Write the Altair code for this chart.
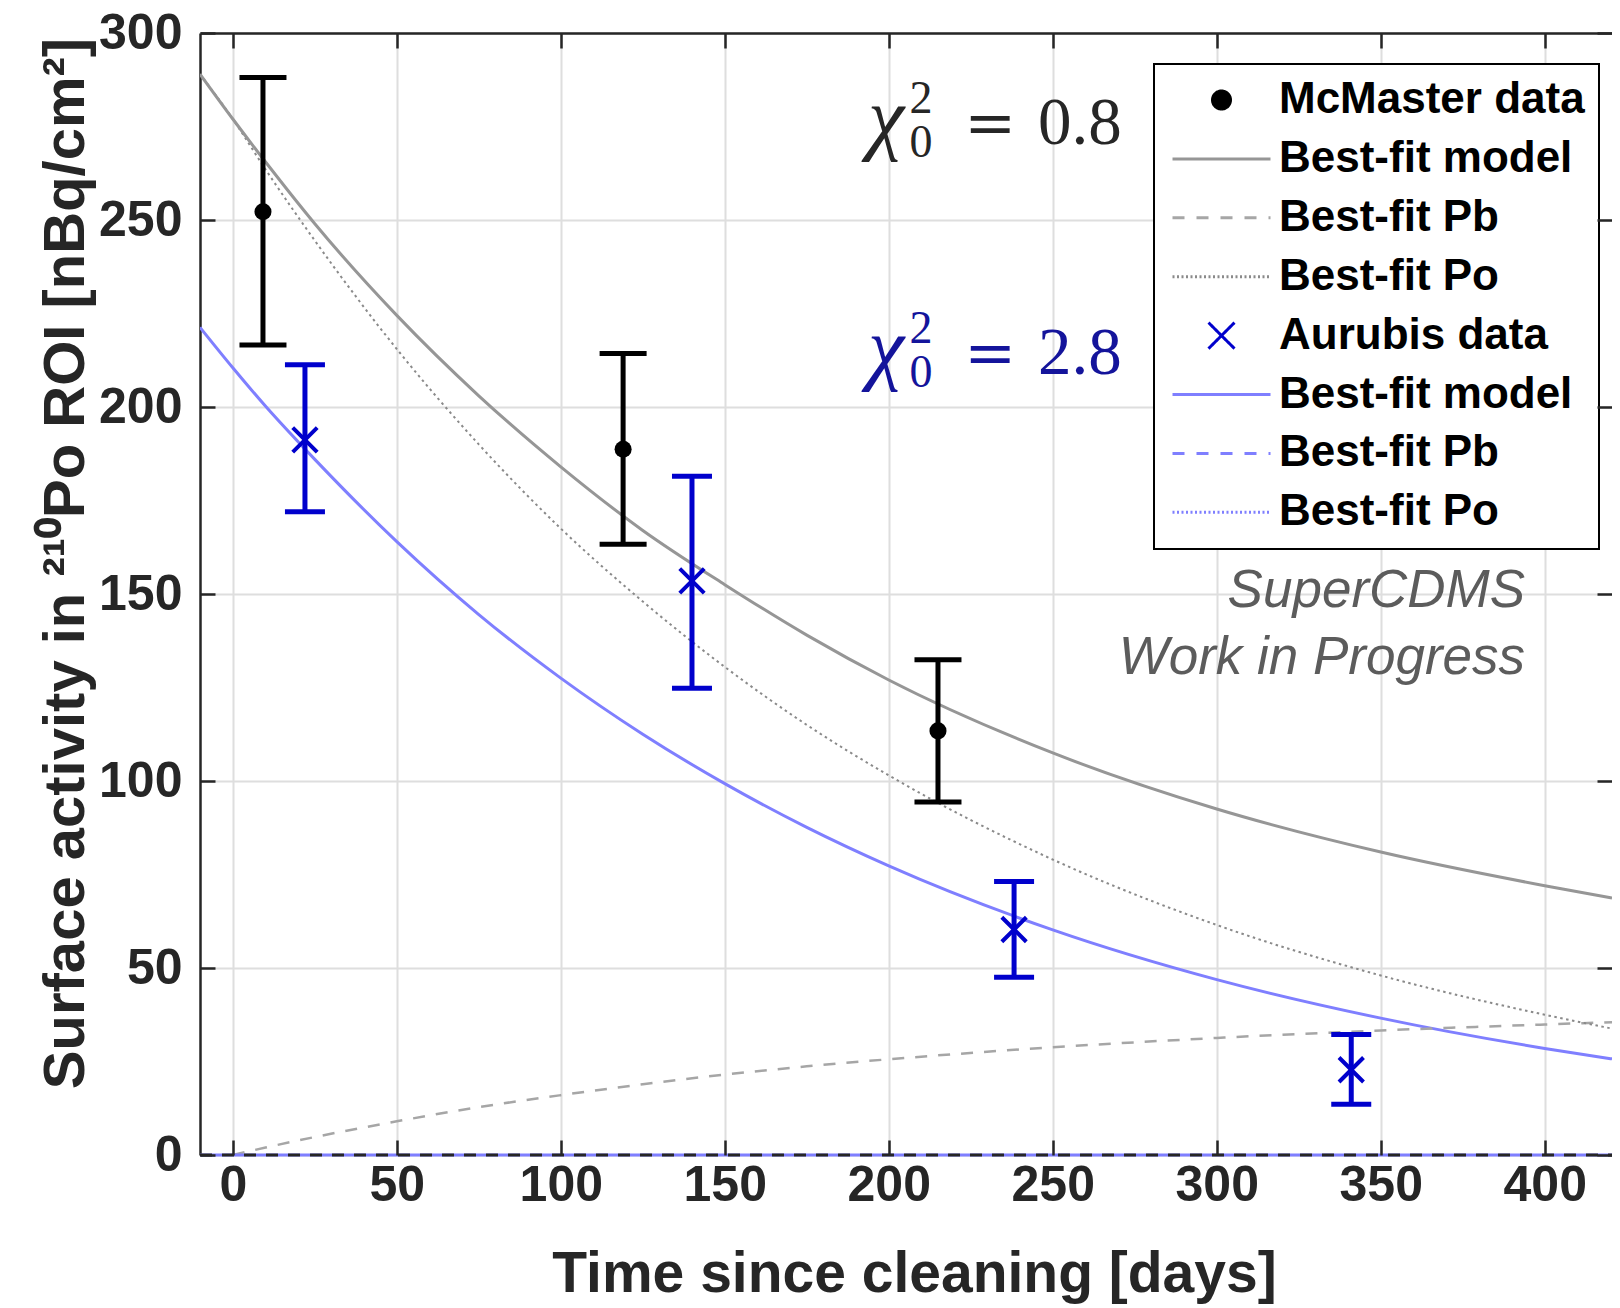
import altair as alt
import pandas as pd

# ---------------- data ----------------
mcm_day = [9.2, 119.0, 215.0]
mcm_val = [252.2, 188.7, 113.4]
mcm_lo = [216.6, 163.3, 94.4]
mcm_hi = [288.1, 214.3, 132.4]

aur_day = [22.0, 140.0, 238.2, 341.0]
aur_val = [191.2, 153.5, 60.3, 22.8]
aur_lo = [172.0, 124.8, 47.5, 13.6]
aur_hi = [211.3, 181.5, 73.1, 32.2]

curve_day = [-10, 0, 10, 25, 50, 75, 100, 125, 150, 175, 200, 250, 300, 350, 400, 420.5]
mcm_model = [289.0, 277.0, 265.5, 249.0, 224.5, 203.0, 184.0, 167.0, 152.5, 139.0, 127.0, 107.5, 92.5, 81.0, 72.0, 68.7]
mcm_po = [289.0, 277.0, 263.5, 244.5, 215.5, 190.0, 167.5, 148.0, 130.5, 115.0, 101.5, 79.0, 61.5, 48.0, 37.5, 33.8]
aur_model = [221.3, 210.5, 200.2, 186.0, 164.0, 144.5, 127.5, 112.5, 99.3, 87.6, 77.3, 60.2, 46.9, 36.6, 28.5, 25.7]

pb_day = [0, 10, 25, 50, 75, 100, 125, 150, 175, 200, 250, 300, 350, 400, 420.5]
mcm_pb = [0.0, 2.0, 4.8, 9.0, 12.8, 16.0, 18.9, 21.5, 23.7, 25.6, 28.8, 31.3, 33.3, 34.9, 35.5]

zero_day = [-10, 420.5]
zero_val = [0, 0]

x_ticks = [0, 50, 100, 150, 200, 250, 300, 350, 400]
y_ticks = [0, 50, 100, 150, 200, 250, 300]
x_domain = [-10, 420.5]
y_domain = [0, 300]

legend_labels = ["McMaster data", "Best-fit model", "Best-fit Pb", "Best-fit Po",
                 "Aurubis data", "Best-fit model ", "Best-fit Pb ", "Best-fit Po "]

chi_values = ["0.8", "2.8"]
watermark = ["SuperCDMS", "Work in Progress"]

# ---------------- styling ----------------
W, H = 1412, 1122
FONT = "Liberation Sans"
SERIF = "Liberation Serif"
AXC = "#262626"
GRAY_MODEL = "#969696"
GRAY_PB = "#a6a6a6"
GRAY_PO = "#8a8a8a"
BLUE_LINE = "#7f7fff"
BLUE_DATA = "#0000cc"
BLUE_TEXT = "#14149b"

DOT = "M0.9,0A0.9,0.9,0,1,1,-0.9,0A0.9,0.9,0,1,1,0.9,0Z"
LINE = "M-4.9,0L4.9,0"
XMARK = "M-1.3,-1.3L1.3,1.3M-1.3,1.3L1.3,-1.3"
XPOINT = "M-1,-1L1,1M-1,1L1,-1"

legend_colors = ["#000000", GRAY_MODEL, GRAY_PB, GRAY_PO, BLUE_DATA, BLUE_LINE, BLUE_LINE, BLUE_LINE]
legend_shapes = [DOT, LINE, LINE, LINE, XMARK, LINE, LINE, LINE]
legend_dash = [[1, 0], [1, 0], [12, 12], [2, 2.5], [1, 0], [1, 0], [12, 12], [2, 2.5]]

xscale = alt.Scale(domain=x_domain, nice=False, zero=False)
yscale = alt.Scale(domain=y_domain, nice=False, zero=False)


def X(field, axis=None):
    return alt.X(field, type="quantitative", scale=xscale, axis=axis)


def Y(field, axis=None):
    return alt.Y(field, type="quantitative", scale=yscale, axis=axis)


ax_x_main = alt.Axis(orient="bottom", values=x_ticks, grid=True, gridColor="#dedede", gridWidth=2,
                     ticks=False, tickSize=0, domain=False,
                     labelFont=FONT, labelFontSize=50, labelFontWeight="bold", labelColor=AXC,
                     labelPadding=5, labelFlush=False, labelOverlap=False,
                     title="Time since cleaning [days]", titleFont=FONT, titleFontSize=57,
                     titleFontWeight="bold", titleColor=AXC, titleX=714, titleY=136,
                     titleBaseline="alphabetic", titleAlign="center", zindex=0)
ax_y_main = alt.Axis(orient="left", values=y_ticks, grid=True, gridColor="#dedede", gridWidth=2,
                     ticks=False, tickSize=0, domain=True, domainColor=AXC, domainWidth=2.5,
                     labelFont=FONT, labelFontSize=50, labelFontWeight="bold", labelColor=AXC,
                     labelPadding=18, labelFlush=False, labelOverlap=False,
                     title="Surface activity in \u00b2\u00b9\u2070Po ROI [nBq/cm\u00b2]",
                     titleFont=FONT, titleFontSize=58, titleFontWeight="bold", titleColor=AXC,
                     titleX=-117, titleY=530, titleAngle=270, titleBaseline="alphabetic",
                     titleAlign="center", zindex=0)
ax_top = alt.Axis(orient="bottom", offset=-H, values=x_ticks, labels=False, grid=False,
                  ticks=True, tickSize=15, tickWidth=2.5, tickColor=AXC,
                  domain=True, domainColor=AXC, domainWidth=2.5, title=None, zindex=1)
ax_bottom_ticks = alt.Axis(orient="top", offset=-H, values=x_ticks, labels=False, grid=False,
                           ticks=True, tickSize=15, tickWidth=2.5, tickColor=AXC,
                           domain=False, title=None, zindex=1)
ax_left_ticks = alt.Axis(orient="right", offset=-W, values=y_ticks, labels=False, grid=False,
                         ticks=True, tickSize=15, tickWidth=2.5, tickColor=AXC,
                         domain=False, title=None, zindex=1)
ax_right_ticks = alt.Axis(orient="left", offset=-W, values=y_ticks, labels=False, grid=False,
                          ticks=True, tickSize=15, tickWidth=2.5, tickColor=AXC,
                          domain=False, title=None, zindex=1)

# ---------------- tables ----------------
curve_df = pd.DataFrame({"day": curve_day, "model": mcm_model, "po": mcm_po, "aur": aur_model})
pb_df = pd.DataFrame({"day": pb_day, "pb": mcm_pb})
zero_df = pd.DataFrame({"day": zero_day, "val": zero_val})
mcm_df = pd.DataFrame({"day": mcm_day, "val": mcm_val, "lo": mcm_lo, "hi": mcm_hi})
aur_df = pd.DataFrame({"day": aur_day, "val": aur_val, "lo": aur_lo, "hi": aur_hi})

# ---------------- curves ----------------
aur_line = alt.Chart(curve_df).mark_line(color=BLUE_LINE, strokeWidth=3, clip=True,
                                         interpolate="monotone").encode(
    x=X("day", ax_x_main), y=Y("aur", ax_y_main))
pb_line = alt.Chart(pb_df).mark_line(color=GRAY_PB, strokeWidth=2.5, strokeDash=[12, 11], clip=True,
                                     interpolate="monotone").encode(
    x=X("day", ax_top), y=Y("pb", ax_left_ticks))
po_line = alt.Chart(curve_df).mark_line(color=GRAY_PO, strokeWidth=2, strokeDash=[2.5, 3.5], clip=True,
                                        interpolate="monotone").encode(
    x=X("day", ax_bottom_ticks), y=Y("po", ax_right_ticks))
model_line = alt.Chart(curve_df).mark_line(color=GRAY_MODEL, strokeWidth=3, clip=True,
                                           interpolate="monotone").encode(
    x=X("day"), y=Y("model"))
zero_blue = alt.Chart(zero_df).mark_line(color=BLUE_LINE, strokeWidth=3, clip=False).encode(
    x=X("day"), y=Y("val"))
zero_black = alt.Chart(zero_df).mark_line(color=AXC, strokeWidth=3, strokeDash=[12, 10], clip=False).encode(
    x=X("day"), y=Y("val"))

# ---------------- data points with error bars ----------------
mcm_bar = alt.Chart(mcm_df).mark_rule(color="black", strokeWidth=5).encode(
    x=X("day"), y=Y("lo"), y2=alt.Y2("hi"))
mcm_cap_lo = alt.Chart(mcm_df).mark_tick(orient="horizontal", size=47, thickness=5, color="black",
                                         opacity=1).encode(x=X("day"), y=Y("lo"))
mcm_cap_hi = alt.Chart(mcm_df).mark_tick(orient="horizontal", size=47, thickness=5, color="black",
                                         opacity=1).encode(x=X("day"), y=Y("hi"))
mcm_pt = alt.Chart(mcm_df).mark_circle(size=290, color="black", opacity=1).encode(
    x=X("day"), y=Y("val"))

aur_bar = alt.Chart(aur_df).mark_rule(color=BLUE_DATA, strokeWidth=5).encode(
    x=X("day"), y=Y("lo"), y2=alt.Y2("hi"))
aur_cap_lo = alt.Chart(aur_df).mark_tick(orient="horizontal", size=40, thickness=5, color=BLUE_DATA,
                                         opacity=1).encode(x=X("day"), y=Y("lo"))
aur_cap_hi = alt.Chart(aur_df).mark_tick(orient="horizontal", size=40, thickness=5, color=BLUE_DATA,
                                         opacity=1).encode(x=X("day"), y=Y("hi"))
aur_pt = alt.Chart(aur_df).mark_point(shape=XPOINT, size=600, filled=False, strokeWidth=4,
                                      color=BLUE_DATA, opacity=1).encode(x=X("day"), y=Y("val"))

# ---------------- annotations ----------------
chi_sym = pd.DataFrame({"x": [193.7, 193.7], "y": [270.3, 208.8], "t": ["\u03c7", "\u03c7"],
                        "c": [AXC, BLUE_TEXT]})
chi_sup = pd.DataFrame({"x": [206.3, 206.3], "y": [278.6, 217.1], "t": ["2", "2"], "c": [AXC, BLUE_TEXT]})
chi_sub = pd.DataFrame({"x": [206.3, 206.3], "y": [266.8, 205.3], "t": ["0", "0"], "c": [AXC, BLUE_TEXT]})
chi_eq = pd.DataFrame({"x": [230.9, 230.9], "y": [270.3, 208.8], "t": ["=", "="], "c": [AXC, BLUE_TEXT]})
chi_val = pd.DataFrame({"x": [245.5, 245.5], "y": [270.3, 208.8], "t": chi_values, "c": [AXC, BLUE_TEXT]})
wm_df = pd.DataFrame({"x": [394.0, 394.0], "y": [146.5, 128.6], "t": watermark})


def text_layer(df, **kw):
    enc = dict(x=X("x"), y=Y("y"), text=alt.Text("t:N"))
    if "c" in df.columns:
        enc["color"] = alt.Color("c:N", scale=None)
    return alt.Chart(df).mark_text(baseline="alphabetic", **kw).encode(**enc)


t1 = text_layer(chi_sym, font=SERIF, fontSize=82, fontStyle="italic", align="left")
t2 = text_layer(chi_sup, font=SERIF, fontSize=46, align="left")
t3 = text_layer(chi_sub, font=SERIF, fontSize=46, align="left")
t4 = text_layer(chi_eq, font="DejaVu Serif", fontSize=62, align="center")
t5 = text_layer(chi_val, font=SERIF, fontSize=67, align="left")
t6 = text_layer(wm_df, font=FONT, fontSize=53, fontStyle="italic", align="right", color="#5c5c5c")

# ---------------- legend (built from a legend-only layer) ----------------
legend_df = pd.DataFrame({"label": legend_labels})
leg = alt.Legend(title=None, orient="none", legendX=954, legendY=31)
legend_layer = alt.Chart(legend_df).transform_filter("false").mark_point(
    filled=True, opacity=1, strokeWidth=3, size=400).encode(
    fill=alt.Fill("label:N", scale=alt.Scale(domain=legend_labels, range=legend_colors), legend=leg),
    stroke=alt.Stroke("label:N", scale=alt.Scale(domain=legend_labels, range=legend_colors), legend=leg),
    shape=alt.Shape("label:N", scale=alt.Scale(domain=legend_labels, range=legend_shapes), legend=leg),
    strokeDash=alt.StrokeDash("label:N", scale=alt.Scale(domain=legend_labels, range=legend_dash),
                              legend=leg),
)

chart = alt.layer(
    aur_line, pb_line, po_line, model_line, zero_blue, zero_black,
    mcm_bar, mcm_cap_lo, mcm_cap_hi, mcm_pt,
    aur_bar, aur_cap_lo, aur_cap_hi, aur_pt,
    t1, t2, t3, t4, t5, t6, legend_layer,
).resolve_axis(x="independent", y="independent").properties(
    width=W, height=H,
    padding={"left": 192, "top": 25, "right": 0, "bottom": 150},
    autosize=alt.AutoSizeParams(type="none"),
    background="white",
).configure_view(stroke="transparent").configure_legend(
    fillColor="white", strokeColor="black", strokeWidth=2, padding=14, rowPadding=14.9,
    labelFont=FONT, labelFontSize=44, labelFontWeight="bold", labelColor="black", labelLimit=2000,
    symbolOffset=31.5, labelOffset=35.5, symbolSize=400, symbolStrokeWidth=3, cornerRadius=0,
)

chart.save("out.html", embed_options={"renderer": "svg", "actions": False})
